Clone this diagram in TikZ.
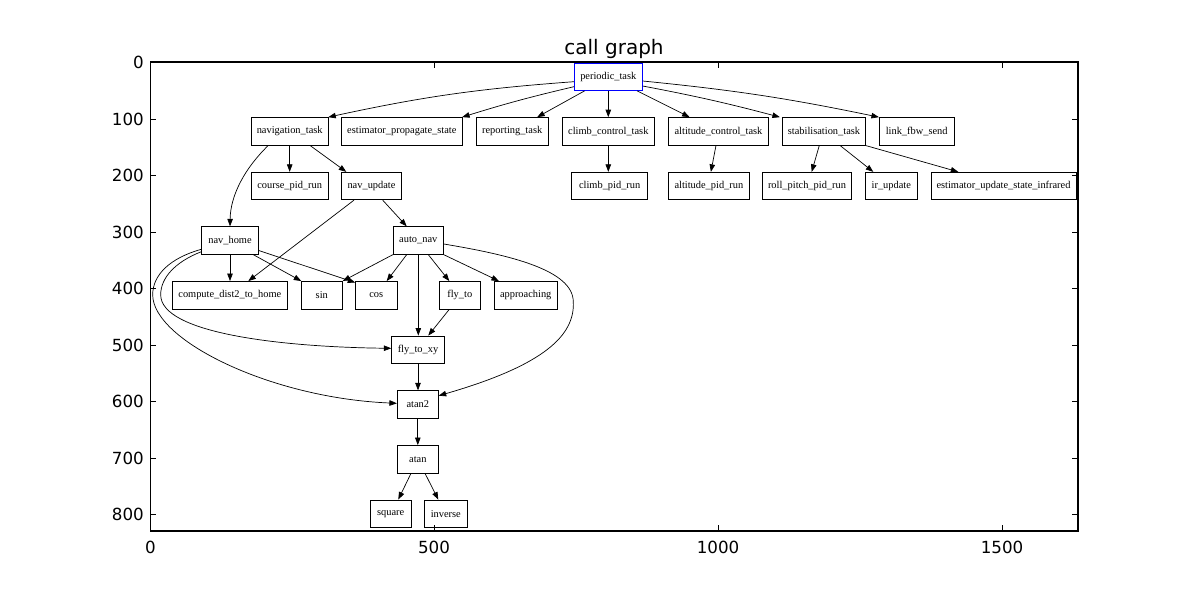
\documentclass[tikz,border=0pt]{standalone}
\usepackage{fontspec}
\setmainfont{Liberation Serif}
\newfontfamily\dejavu{DejaVu Sans}
\usetikzlibrary{arrows.meta}
\begin{document}
\begin{tikzpicture}[x=1pt,y=-1pt,
  fn/.style={draw=black, line width=0.8pt, rectangle, minimum height=27.5pt, inner sep=0pt, fill=white, font=\fontsize{10.4}{12}\selectfont},
  edge/.style={line width=0.7pt, -{Triangle[length=7.5pt,width=5.5pt]}},
  tickmark/.style={line width=0.8pt},
  lbl/.style={font=\dejavu\fontsize{16.7}{20}\selectfont, inner sep=0pt}]
\useasboundingbox (0,0) rectangle (1197,592);
\fill[white] (0,0) rectangle (1197,592);

% title
\node[font=\dejavu\fontsize{20}{24}\selectfont, anchor=base, inner sep=0pt] (title) at (614,54) {call graph};

% nodes
\node[fn, draw=blue, minimum width=68pt] (periodic) at (608.3,76.7) {periodic\_task};

\node[fn, minimum width=77.3pt] (navtask) at (289.7,131.3) {navigation\_task};
\node[fn, minimum width=121pt] (estprop) at (401.8,131.3) {estimator\_propagate\_state};
\node[fn, minimum width=72.3pt] (reporting) at (512.2,131.3) {reporting\_task};
\node[fn, minimum width=92pt] (climbctl) at (608.3,131.3) {climb\_control\_task};
\node[fn, minimum width=99.6pt] (altctl) at (718.5,131.3) {altitude\_control\_task};
\node[fn, minimum width=83.4pt] (stab) at (824,131.3) {stabilisation\_task};
\node[fn, minimum width=74.7pt] (linkfbw) at (916.7,131.3) {link\_fbw\_send};

\node[fn, minimum width=77.3pt] (coursepid) at (289.7,186) {course\_pid\_run};
\node[fn, minimum width=60.4pt] (navupdate) at (371.5,186) {nav\_update};
\node[fn, minimum width=76pt] (climbpid) at (609.7,186) {climb\_pid\_run};
\node[fn, minimum width=80.3pt] (altpid) at (708.9,186) {altitude\_pid\_run};
\node[fn, minimum width=89.4pt] (rollpitch) at (807,186) {roll\_pitch\_pid\_run};
\node[fn, minimum width=52pt] (irupdate) at (891.3,186) {ir\_update};
\node[fn, minimum width=145pt] (estupd) at (1003.5,186) {estimator\_update\_state\_infrared};

\node[fn, minimum width=56.6pt] (navhome) at (230,240.5) {nav\_home};
\node[fn, minimum width=50pt] (autonav) at (418.3,240.5) {auto\_nav};

\node[fn, minimum width=115pt] (compute) at (229.8,295.2) {compute\_dist2\_to\_home};
\node[fn, minimum width=41pt] (sin) at (321.8,295.2) {sin};
\node[fn, minimum width=41.3pt] (cos) at (376.3,295.2) {cos};
\node[fn, minimum width=41pt] (flyto) at (459.8,295.2) {fly\_to};
\node[fn, minimum width=63.3pt] (approaching) at (525.7,295.2) {approaching};

\node[fn, minimum width=52.6pt] (flytoxy) at (418,349.7) {fly\_to\_xy};
\node[fn, minimum width=41pt] (atantwo) at (417.8,404.5) {atan2};
\node[fn, minimum width=41pt] (atan) at (417.8,459.2) {atan};
\node[fn, minimum width=41.3pt] (square) at (390.7,513.7) {square};
\node[fn, minimum width=43pt] (inverse) at (445.8,513.7) {inverse};

% edges from periodic_task
\draw[edge] ([yshift=-5pt]periodic.west) to[bend right=4] ([xshift=-0.5pt]navtask.north east);
\draw[edge] ([yshift=-10pt]periodic.west) to[bend right=2] ([xshift=-0.6pt]estprop.north east);
\draw[edge] ([xshift=10.7pt]periodic.south west) -- ([xshift=-11.6pt]reporting.north east);
\draw[edge] (periodic.south) -- (climbctl.north);
\draw[edge] ([xshift=-5.6pt]periodic.south east) -- ([xshift=21.3pt]altctl.north west);
\draw[edge] ([yshift=-9.3pt]periodic.east) to[bend left=2] ([xshift=-2pt]stab.north west);
\draw[edge] ([yshift=-4.3pt]periodic.east) to[bend left=3] (linkfbw.north west);

% navigation_task
\draw[edge] (navtask.south) -- (coursepid.north);
\draw[edge] ([xshift=20.3pt]navtask.south) -- ([xshift=5.4pt]navupdate.north west);
\draw[edge] ([xshift=-21.4pt]navtask.south) .. controls (245,168) and (230.5,195) .. (navhome.north);

% control tasks
\draw[edge] (climbctl.south) -- (climbctl.south |- climbpid.north);
\draw[edge] ([xshift=-2.5pt]altctl.south) -- ([xshift=2pt]altpid.north);
\draw[edge] ([xshift=-4.7pt]stab.south) -- ([xshift=4.7pt]rollpitch.north);
\draw[edge] ([xshift=16pt]stab.south) -- ([xshift=-18pt]irupdate.north);
\draw[edge] ([xshift=-0.7pt]stab.south east) -- ([xshift=-45.2pt]estupd.north);

% nav_update
\draw[edge] ([xshift=-17.5pt]navupdate.south) -- ([xshift=18.5pt]compute.north);
\draw[edge] ([xshift=11.2pt]navupdate.south) -- ([xshift=-11.6pt]autonav.north);

% nav_home
\draw[edge] (navhome.south) -- (navhome.south |- compute.north);
\draw[edge] ([xshift=23.3pt]navhome.south) -- ([xshift=0.4pt]sin.north west);
\draw[edge] ([yshift=-10pt]navhome.east) -- ([yshift=-1.5pt]cos.north west);
\draw[edge] ([yshift=-11.2pt]navhome.west) .. controls (175,262) and (160.5,278) .. (160.7,295)
  .. controls (161,333) and (280,347) .. ([yshift=1.4pt]flytoxy.west);
\draw[edge] ([yshift=-8.8pt]navhome.west) .. controls (170,258) and (152.5,275) .. (152.7,295)
  .. controls (153,340) and (270,398) .. ([yshift=1.2pt]atantwo.west);

% auto_nav
\draw[edge] (autonav.south west) -- (sin.north east);
\draw[edge] ([xshift=-11.6pt]autonav.south) -- ([xshift=10.4pt]cos.north);
\draw[edge] ([xshift=10pt]autonav.south) -- ([xshift=-10.5pt]flyto.north);
\draw[edge] (autonav.south east) -- ([xshift=5.3pt]approaching.north west);
\draw[edge] (autonav.south) -- (autonav.south |- flytoxy.north);
\draw[edge] ([yshift=-3.5pt]autonav.east) .. controls (510,255) and (573,270) .. (573.3,301.7)
  .. controls (575,335) and (545,365) .. ([yshift=8.8pt]atantwo.east);

% lower chain
\draw[edge] ([xshift=-10.5pt]flyto.south) -- ([xshift=10.3pt]flytoxy.north);
\draw[edge] (flytoxy.south) -- (flytoxy.south |- atantwo.north);
\draw[edge] (atantwo.south) -- (atan.north);
\draw[edge] ([xshift=-6.8pt]atan.south) -- ([xshift=7.6pt]square.north);
\draw[edge] ([xshift=7.2pt]atan.south) -- ([xshift=-7.5pt]inverse.north);

% axes frame
\draw[line width=1.1pt] (150.5,62) rectangle (1078,531);

% x ticks
\foreach \px/\v in {150.5/0,434/500,718/1000,1002/1500}{
  \draw[tickmark] (\px,531) -- (\px,525.4);
  \draw[tickmark] (\px,62) -- (\px,67.6);
  \node[lbl, anchor=north] at (\px,541) {\v};
}
% y ticks
\foreach \py/\v in {62.8/0,119.3/100,175.8/200,232.3/300,288.8/400,345.3/500,401.8/600,458.3/700,514.8/800}{
  \draw[tickmark] (150.5,\py) -- (156.1,\py);
  \draw[tickmark] (1078,\py) -- (1072.4,\py);
  \node[lbl, anchor=east] at (144,\py) {\v};
}
\end{tikzpicture}
\end{document}
